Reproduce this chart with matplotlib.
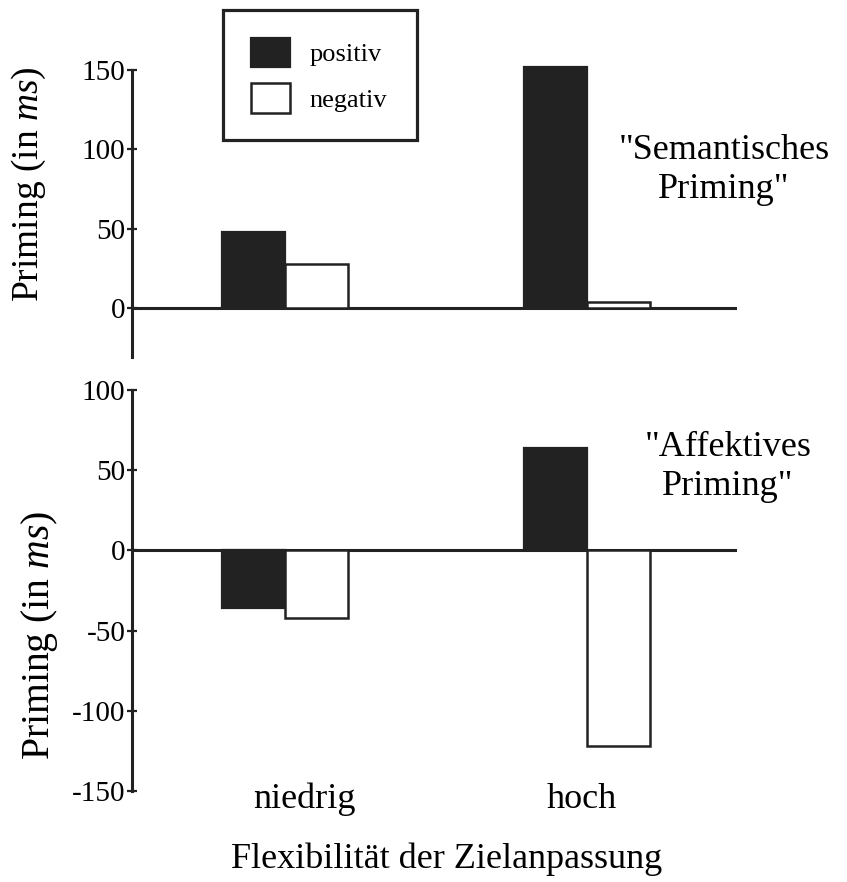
import matplotlib
matplotlib.use("Agg")
from matplotlib import pyplot as plt
from matplotlib import transforms
import numpy as np

# Daten
kategorien = ["niedrig", "hoch"]
serien = ["positiv", "negativ"]
semantisch_pos = [48, 152]
semantisch_neg = [28, 4]
affektiv_pos = [-36, 64]
affektiv_neg = [-42, -122]

plt.rcParams['font.family'] = ['Liberation Serif', 'DejaVu Serif']
plt.rcParams['mathtext.fontset'] = 'custom'
plt.rcParams['mathtext.rm'] = 'Liberation Serif'
plt.rcParams['mathtext.it'] = 'Liberation Serif:italic'

dunkel = "#222222"
W, H = 847, 882
fig = plt.figure(figsize=(W / 100, H / 100), dpi=100)

x = np.arange(len(kategorien))
bw = 0.21
xlim = (-0.507, 1.497)


def panel(ax, pos, neg, ylim, bounds, ticks):
    ax.bar(x - bw / 2, pos, bw, color=dunkel, edgecolor=dunkel, linewidth=1.6, label=serien[0])
    ax.bar(x + bw / 2, neg, bw, color="white", edgecolor=dunkel, linewidth=1.8, label=serien[1])
    ax.axhline(0, color=dunkel, linewidth=2.2, zorder=0)
    ax.set_xlim(*xlim)
    ax.set_ylim(*ylim)
    for s in ["top", "right", "bottom"]:
        ax.spines[s].set_visible(False)
    ax.spines["left"].set_linewidth(2.2)
    ax.spines["left"].set_color(dunkel)
    ax.spines["left"].set_bounds(*bounds)
    ax.set_yticks(ticks)
    ax.set_yticklabels([str(t) for t in ticks])
    ax.tick_params(axis="y", direction="inout", length=7.5, width=1.6, pad=1,
                   labelsize=21, color=dunkel)
    ax.set_xticks([])
    ax.patch.set_alpha(0)


# oben: semantisches Priming
ax1 = fig.add_axes([132 / W, 1 - 357 / H, 605 / W, 294.7 / H])
panel(ax1, semantisch_pos, semantisch_neg, (-31, 155), (-31, 150), [0, 50, 100, 150])
ax1.set_ylabel("Priming (in $\\mathit{ms}$)", fontsize=27)
ax1.yaxis.set_label_coords(48 / W, 1 - 184 / H, transform=fig.transFigure)

# unten: affektives Priming
ax2 = fig.add_axes([132 / W, 1 - 791 / H, 605 / W, 401 / H])
panel(ax2, affektiv_pos, affektiv_neg, (-150, 100), (-150, 100), [-150, -100, -50, 0, 50, 100])
ax2.set_ylabel("Priming (in $\\mathit{ms}$)", fontsize=28.5)
ax2.yaxis.set_label_coords(60 / W, 1 - 635 / H, transform=fig.transFigure)

# Kategorien (leicht versetzt wie im Original)
basis = transforms.blended_transform_factory(ax2.transData, fig.transFigure)
for xi, k, dx in zip(x, kategorien, [19, -5]):
    tr = transforms.offset_copy(basis, fig=fig, x=dx, y=0, units="dots")
    ax2.text(xi, 1 - 808 / H, k, transform=tr, ha="center", va="baseline", fontsize=26)

fig.text(447 / W, 1 - 868 / H, "Flexibilität der Zielanpassung", ha="center",
         va="baseline", fontsize=26)

fig.text(724 / W, 1 - 170 / H, "\"Semantisches\nPriming\"", ha="center", va="center",
         fontsize=26, linespacing=1.25, multialignment="center")
fig.text(728 / W, 1 - 467 / H, "\"Affektives\nPriming\"", ha="center", va="center",
         fontsize=26, linespacing=1.25, multialignment="center")

# Legende
leg = ax1.legend(loc="upper left", bbox_to_anchor=(223 / W, 1 - 137 / H, 194 / W, 127 / H),
                 bbox_transform=fig.transFigure, mode="expand", borderaxespad=0,
                 fontsize=19, handlelength=1.5, handleheight=1.35, handletextpad=0.72,
                 borderpad=1.05, labelspacing=0.6, fancybox=False, frameon=True,
                 framealpha=1)
leg.get_frame().set_edgecolor(dunkel)
leg.get_frame().set_linewidth(2.3)

fig.savefig("out.png", dpi=100)
